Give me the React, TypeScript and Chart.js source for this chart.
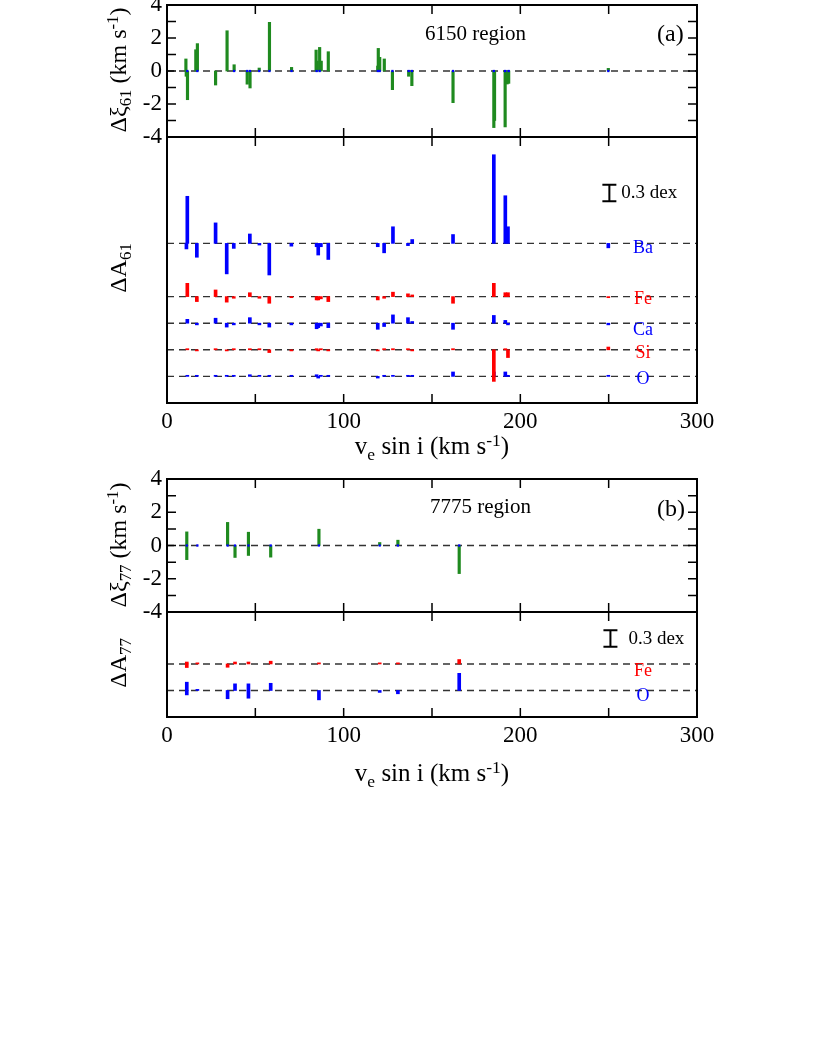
import React, { useEffect, useRef } from "react";
import { Chart, registerables } from "chart.js";
Chart.register(...registerables);

const FONT = "'Liberation Serif', 'Times New Roman', Times, serif";
const GREEN = "#1f8a1f";
const BLUE = "#0000ff";
const RED = "#ff0000";
const DASH = "#333333";

// ---------- axes ----------
const X_MIN = 0;
const X_MAX = 300;
const xTickLabels = [0, 100, 200, 300];
const xFrameTicks = [50, 100, 150, 200, 250];
const xiTickLabels = [-4, -2, 0, 2, 4];
const xiFrameTicks = [-3, -2, -1, 0, 1, 2, 3];

// ---------- panel (a) 6150 region : delta xi ----------
const xi61X = [10.7, 10.9, 11.6, 16.3, 17.2, 27.5, 34, 38, 45.4, 47, 52.2, 58, 70.5, 84.4, 85, 86.4, 87.3, 91.3, 119.3, 119.6, 120.4, 123, 127.6, 136.8, 138.6, 161.9, 185, 185.4, 191.4, 192.5, 193.4, 249.8];
const xi61V = [0.73, -0.32, -1.74, 1.29, 1.66, -0.85, 2.44, 0.38, -0.8, -1.03, 0.18, 2.95, 0.22, 1.27, 0.6, 1.43, 0.6, 1.17, 0.3, 1.37, 0.83, 0.73, -1.13, -0.32, -0.89, -1.92, -3.43, -3.0, -3.39, -0.79, -0.75, 0.16];
const xi61DotX = [11.5, 17.2, 38, 45.4, 47, 52.2, 58, 70.5, 84.7, 86.4, 119.3, 120.4, 127.6, 136.8, 138.6, 161.9, 185, 191.4, 193.4, 249.8];

// ---------- panel (a) 6150 region : delta A (offset baselines) ----------
const a61Range = [0, 4.8];
const a61Elements = ["Ba", "Fe", "Ca", "Si", "O"];
const a61Baselines = [2.88, 1.92, 1.44, 0.96, 0.48];
const a61Colors = [BLUE, RED, BLUE, RED, BLUE];
const a61LabelDy = [5, 3, 7, 3, 3];
const a61X = [11.5, 16.9, 27.5, 33.8, 37.8, 46.9, 52.3, 57.9, 70.4, 84.7, 85.6, 87.1, 91.3, 119.3, 122.9, 127.9, 136.4, 138.8, 161.9, 185, 191.5, 193, 249.8];
const baV = [0.85, -0.25, 0.37, -0.55, -0.09, 0.17, -0.03, -0.57, -0.05, -0.06, -0.21, -0.06, -0.29, -0.06, -0.17, 0.3, -0.04, 0.07, 0.16, 1.6, 0.86, 0.3, -0.08];
const feV = [0.24, -0.09, 0.12, -0.1, -0.03, 0.07, -0.03, -0.12, -0.02, -0.06, -0.06, -0.04, -0.09, -0.06, -0.03, 0.08, 0.05, 0.03, -0.12, 0.24, 0.07, 0.07, -0.02];
const caV = [0.07, -0.03, 0.09, -0.07, -0.03, 0.1, -0.03, -0.07, -0.03, -0.1, -0.08, -0.05, -0.08, -0.11, -0.06, 0.15, 0.1, 0.03, -0.11, 0.14, 0.05, -0.03, -0.03];
const siV = [0.02, -0.02, 0.02, -0.02, 0.02, 0.02, 0.02, -0.05, -0.02, 0.02, -0.02, 0.02, -0.02, -0.02, 0.02, 0.02, 0.02, -0.02, 0.02, -0.57, 0.02, -0.14, 0.05];
const oV = [0.02, 0.02, 0.02, 0.02, 0.02, 0.03, 0.02, 0.02, 0.02, 0.03, -0.03, 0.02, 0.02, -0.03, 0.02, 0.02, 0.02, 0.02, 0.08, 0.08, 0.08, 0.02, 0.02];
const baExtraX = [11.0];
const baExtraV = [-0.1];
const a61ScaleBar = { x: 250.4, lo: 3.64, hi: 3.94 };

// ---------- panel (b) 7775 region : delta xi ----------
const xi77X = [11.2, 11.2, 34.3, 38.5, 46.1, 46.1, 58.7, 86, 120.4, 130.7, 165.4];
const xi77V = [0.82, -0.85, 1.39, -0.72, 0.8, -0.6, -0.7, 0.98, 0.18, 0.32, -1.69];
const xi77DotX = [11.2, 17.2, 34.3, 38.5, 46.1, 58.7, 86, 120.4, 130.7, 165.4];

// ---------- panel (b) 7775 region : delta A ----------
const a77Range = [0, 1.9];
const a77Elements = ["Fe", "O"];
const a77Baselines = [0.96, 0.48];
const a77Colors = [RED, BLUE];
const a77LabelDy = [7, 6];
const a77X = [11.2, 17.2, 34.3, 38.5, 46.1, 58.7, 86, 120.4, 130.7, 165.4];
const fe77V = [-0.065, 0.02, -0.06, 0.035, 0.035, 0.05, 0.02, 0.02, 0.02, 0.08];
const o77V = [0.15, 0.02, -0.15, 0.12, 0.12, 0.13, -0.17, -0.035, -0.06, 0.31];
const fe77ExtraX = [11.2];
const fe77ExtraV = [0.035];
const o77ExtraX = [11.2, 46.1];
const o77ExtraV = [-0.08, -0.14];
const a77ScaleBar = { x: 251, lo: 1.27, hi: 1.57 };

const LABEL_X = 269.4;

// ---------- helpers ----------
function bars(xs: number[], vs: number[], base: number, color: string, thickness = 3) {
  return {
    type: "bar" as const,
    data: xs.map((x, i) => ({ x, y: [base, base + vs[i]] })),
    backgroundColor: color,
    borderWidth: 0,
    barThickness: thickness,
    grouped: false,
    order: 2,
  };
}
function dashed(y: number) {
  return {
    type: "line" as const,
    data: [
      { x: X_MIN, y },
      { x: X_MAX, y },
    ],
    borderColor: DASH,
    borderWidth: 1.4,
    borderDash: [7, 5],
    pointRadius: 0,
    order: 10,
  };
}
function dots(xs: number[]) {
  return {
    type: "scatter" as const,
    data: xs.map((x) => ({ x, y: 0 })),
    pointStyle: "rect",
    pointRadius: 1.6,
    backgroundColor: BLUE,
    borderWidth: 0,
    order: 1,
  };
}

type FrameCfg = {
  id: string;
  yTicks?: number[];
  scaleBar?: { x: number; lo: number; hi: number; dx: number };
  labels?: { text: string; y: number; color: string; dy: number }[];
};

function framePlugin(cfg: FrameCfg) {
  return {
    id: cfg.id,
    afterDraw(chart: any) {
      const { ctx, chartArea: a, scales } = chart;
      const xs = scales.x;
      const ys = scales.y;
      const TL = 9;
      ctx.save();
      ctx.strokeStyle = "#000";
      ctx.lineWidth = 1.5;
      ctx.beginPath();
      for (const v of xFrameTicks) {
        const px = xs.getPixelForValue(v);
        ctx.moveTo(px, a.top);
        ctx.lineTo(px, a.top + TL);
        ctx.moveTo(px, a.bottom);
        ctx.lineTo(px, a.bottom - TL);
      }
      if (cfg.yTicks) {
        for (const v of cfg.yTicks) {
          const py = ys.getPixelForValue(v);
          ctx.moveTo(a.left, py);
          ctx.lineTo(a.left + TL, py);
          ctx.moveTo(a.right, py);
          ctx.lineTo(a.right - TL, py);
        }
      }
      ctx.stroke();
      ctx.lineWidth = 2;
      ctx.strokeRect(a.left, a.top, a.right - a.left, a.bottom - a.top);
      if (cfg.scaleBar) {
        const sb = cfg.scaleBar;
        const px = xs.getPixelForValue(sb.x);
        const y0 = ys.getPixelForValue(sb.lo);
        const y1 = ys.getPixelForValue(sb.hi);
        ctx.lineWidth = 2;
        ctx.beginPath();
        ctx.moveTo(px, y0);
        ctx.lineTo(px, y1);
        ctx.moveTo(px - 7, y0);
        ctx.lineTo(px + 7, y0);
        ctx.moveTo(px - 7, y1);
        ctx.lineTo(px + 7, y1);
        ctx.stroke();
        ctx.fillStyle = "#000";
        ctx.font = `19px ${FONT}`;
        ctx.textAlign = "left";
        ctx.textBaseline = "middle";
        ctx.fillText("0.3 dex", px + sb.dx, (y0 + y1) / 2);
      }
      if (cfg.labels) {
        ctx.font = `18px ${FONT}`;
        ctx.textAlign = "center";
        ctx.textBaseline = "middle";
        const lx = xs.getPixelForValue(LABEL_X);
        for (const l of cfg.labels) {
          ctx.fillStyle = l.color;
          ctx.fillText(l.text, lx, ys.getPixelForValue(l.y) + l.dy);
        }
      }
      ctx.restore();
    },
  };
}

const tickFont = { family: FONT, size: 23 };

function makeConfig(opts: {
  datasets: any[];
  yMin: number;
  yMax: number;
  showY: boolean;
  showX: boolean;
  padding: { top: number; bottom: number; right: number };
  frame: FrameCfg;
}) {
  return {
    type: "bar" as const,
    data: { datasets: opts.datasets },
    options: {
      animation: false as const,
      responsive: false,
      maintainAspectRatio: false,
      devicePixelRatio: 1,
      layout: { padding: { ...opts.padding, left: opts.showY ? 0 : 167 } },
      plugins: { legend: { display: false }, tooltip: { enabled: false } },
      scales: {
        x: {
          type: "linear" as const,
          min: X_MIN,
          max: X_MAX,
          offset: false,
          display: opts.showX,
          grid: { display: false, offset: false, drawTicks: false },
          border: { display: false },
          afterBuildTicks: (s: any) => {
            s.ticks = xTickLabels.map((v) => ({ value: v }));
          },
          ticks: { font: tickFont, color: "#000", padding: 5, maxRotation: 0, autoSkip: false },
          afterFit: (s: any) => {
            s.height = opts.showX ? 40 : 0;
          },
        },
        y: {
          type: "linear" as const,
          min: opts.yMin,
          max: opts.yMax,
          display: opts.showY,
          grid: { display: false, drawTicks: false },
          border: { display: false },
          afterBuildTicks: (s: any) => {
            s.ticks = xiTickLabels.map((v) => ({ value: v }));
          },
          ticks: { font: tickFont, color: "#000", padding: 5, autoSkip: false },
          afterFit: (s: any) => {
            s.width = opts.showY ? 167 : 0;
          },
        },
      },
    },
    plugins: [framePlugin(opts.frame)],
  };
}

function Panel({ top, height, config }: { top: number; height: number; config: () => any }) {
  const ref = useRef<HTMLCanvasElement>(null);
  useEffect(() => {
    if (!ref.current) return;
    const chart = new Chart(ref.current, config());
    return () => chart.destroy();
  }, []);
  return (
    <canvas
      ref={ref}
      width={817}
      height={height}
      style={{ position: "absolute", left: 0, top, width: 817, height }}
    />
  );
}

const Sub = ({ children }: { children: any }) => (
  <span style={{ fontSize: "0.7em", position: "relative", top: "0.32em" }}>{children}</span>
);
const Sup = ({ children }: { children: any }) => (
  <span style={{ fontSize: "0.7em", position: "relative", top: "-0.45em" }}>{children}</span>
);

const textBase: React.CSSProperties = {
  position: "absolute",
  fontFamily: FONT,
  color: "#000",
  whiteSpace: "nowrap",
  lineHeight: 1,
};

function YTitle({ cx, cy, children }: { cx: number; cy: number; children: any }) {
  return (
    <div
      style={{
        ...textBase,
        left: cx,
        top: cy,
        fontSize: 24,
        transform: "translate(-50%, -50%) rotate(-90deg)",
      }}
    >
      {children}
    </div>
  );
}
function CText({ cx, cy, size, children }: { cx: number; cy: number; size: number; children: any }) {
  return (
    <div style={{ ...textBase, left: cx, top: cy, fontSize: size, transform: "translate(-50%, -50%)" }}>
      {children}
    </div>
  );
}

function abundanceDatasets(
  elements: string[],
  baselines: number[],
  colors: string[],
  values: number[][],
  xs: number[],
  extras: { idx: number; x: number[]; v: number[] }[]
) {
  const ds: any[] = [];
  baselines.forEach((b) => ds.push(dashed(b)));
  elements.forEach((_, i) => {
    ds.push(bars(xs, values[i], baselines[i], colors[i]));
  });
  extras.forEach((e) => ds.push(bars(e.x, e.v, baselines[e.idx], colors[e.idx])));
  return ds;
}

export default function App() {
  const cfgA1 = () =>
    makeConfig({
      datasets: [dashed(0), bars(xi61X, xi61V, 0, GREEN, 2.5), dots(xi61DotX)],
      yMin: -4,
      yMax: 4,
      showY: true,
      showX: false,
      padding: { top: 24, bottom: 24, right: 120 },
      frame: { id: "frameA1", yTicks: xiFrameTicks },
    });
  const cfgA2 = () =>
    makeConfig({
      datasets: abundanceDatasets(a61Elements, a61Baselines, a61Colors, [baV, feV, caV, siV, oV], a61X, [
        { idx: 0, x: baExtraX, v: baExtraV },
      ]),
      yMin: a61Range[0],
      yMax: a61Range[1],
      showY: false,
      showX: true,
      padding: { top: 7, bottom: 0, right: 120 },
      frame: {
        id: "frameA2",
        scaleBar: { ...a61ScaleBar, dx: 12 },
        labels: a61Elements.map((t, i) => ({ text: t, y: a61Baselines[i], color: a61Colors[i], dy: a61LabelDy[i] })),
      },
    });
  const cfgB1 = () =>
    makeConfig({
      datasets: [dashed(0), bars(xi77X, xi77V, 0, GREEN, 2.5), dots(xi77DotX)],
      yMin: -4,
      yMax: 4,
      showY: true,
      showX: false,
      padding: { top: 24, bottom: 24, right: 120 },
      frame: { id: "frameB1", yTicks: xiFrameTicks },
    });
  const cfgB2 = () =>
    makeConfig({
      datasets: abundanceDatasets(a77Elements, a77Baselines, a77Colors, [fe77V, o77V], a77X, [
        { idx: 0, x: fe77ExtraX, v: fe77ExtraV },
        { idx: 1, x: o77ExtraX, v: o77ExtraV },
      ]),
      yMin: a77Range[0],
      yMax: a77Range[1],
      showY: false,
      showX: true,
      padding: { top: 7, bottom: 0, right: 120 },
      frame: {
        id: "frameB2",
        scaleBar: { ...a77ScaleBar, dx: 18 },
        labels: a77Elements.map((t, i) => ({ text: t, y: a77Baselines[i], color: a77Colors[i], dy: a77LabelDy[i] })),
      },
    });

  return (
    <div style={{ position: "absolute", left: 0, top: 0, width: 817, height: 1058, background: "#fff", overflow: "hidden" }}>
      <Panel top={-19} height={180} config={cfgA1} />
      <Panel top={130} height={313} config={cfgA2} />
      <Panel top={455} height={181} config={cfgB1} />
      <Panel top={605} height={152} config={cfgB2} />

      <YTitle cx={118} cy={70}>
        Δξ<Sub>61</Sub> (km s<Sup>-1</Sup>)
      </YTitle>
      <YTitle cx={118} cy={268}>
        ΔA<Sub>61</Sub>
      </YTitle>
      <YTitle cx={118} cy={545}>
        Δξ<Sub>77</Sub> (km s<Sup>-1</Sup>)
      </YTitle>
      <YTitle cx={118} cy={663}>
        ΔA<Sub>77</Sub>
      </YTitle>

      <CText cx={432} cy={445} size={25}>
        v<Sub>e</Sub> sin i (km s<Sup>-1</Sup>)
      </CText>
      <CText cx={432} cy={772} size={25}>
        v<Sub>e</Sub> sin i (km s<Sup>-1</Sup>)
      </CText>

      <div style={{ ...textBase, left: 425, top: 33, fontSize: 21, transform: "translateY(-50%)" }}>6150 region</div>
      <div style={{ ...textBase, left: 657, top: 33, fontSize: 24, transform: "translateY(-50%)" }}>(a)</div>
      <div style={{ ...textBase, left: 430, top: 506, fontSize: 21, transform: "translateY(-50%)" }}>7775 region</div>
      <div style={{ ...textBase, left: 657, top: 508, fontSize: 24, transform: "translateY(-50%)" }}>(b)</div>
    </div>
  );
}
